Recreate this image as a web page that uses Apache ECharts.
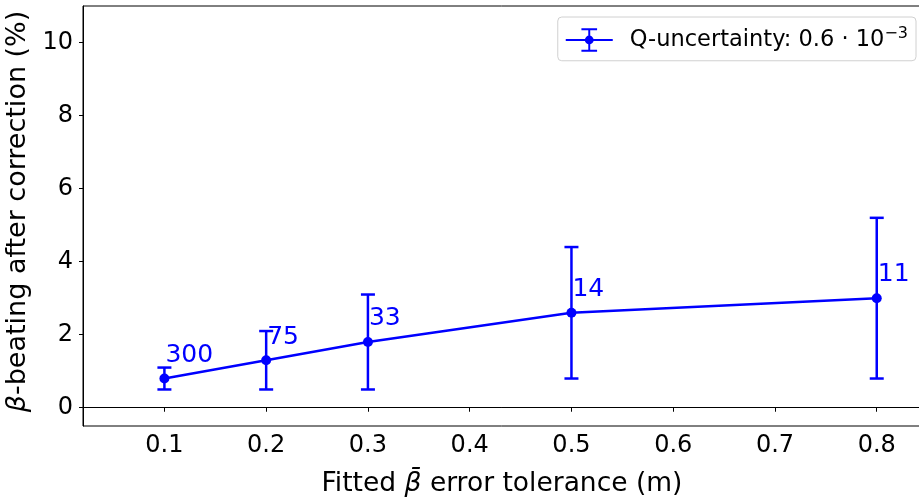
<!DOCTYPE html>
<html>
<head>
<meta charset="utf-8">
<script src="https://cdn.jsdelivr.net/npm/echarts@6/dist/echarts.min.js"></script>
<style>
  html, body { margin: 0; padding: 0; background: #fff; }
  #chart { width: 919px; height: 499px; }
</style>
</head>
<body>
<div id="chart"></div>
<script>
// data
var xValues = [0.1, 0.2, 0.3, 0.5, 0.8];
var yValues = [0.8, 1.3, 1.8, 2.6, 3.0];
var errLow = [0.5, 0.5, 0.5, 0.8, 0.8];
var errHigh = [1.1, 2.1, 3.1, 4.4, 5.2];
var counts = ["300", "75", "33", "14", "11"];
var xTicks = [0.1, 0.2, 0.3, 0.4, 0.5, 0.6, 0.7, 0.8];
var yTicks = [0, 2, 4, 6, 8, 10];

var BLUE = "#0000ff";
var FONT = "DejaVu Sans";

var lineData = xValues.map(function (x, i) { return [x, yValues[i]]; });
var errData = xValues.map(function (x, i) { return [x, errLow[i], errHigh[i]]; });
var labelData = xValues.map(function (x, i) { return [x, yValues[i], counts[i]]; });

// legend icon: line + errorbar + marker
var legendIcon = "path://M0 11L48 11L48 13L0 13Z M23 0L25 0L25 24L23 24Z M16 0L32 0L32 2L16 2Z M16 22L32 22L32 24L16 24Z M19.5 12A4.5 4.5 0 1 1 28.5 12A4.5 4.5 0 1 1 19.5 12Z";

function init_chart(container) {
  var chartDom = document.getElementById(container);
  var myChart = echarts.init(chartDom, null, { renderer: "canvas" });
  var option = {
    animation: false,
    textStyle: { fontFamily: FONT },
    grid: {
      left: 83,
      top: 6,
      right: -2,
      bottom: 73,
      outerBoundsMode: "none",
      show: true,
      borderColor: "#000",
      borderWidth: 1,
    },
    legend: {
      right: 3,
      top: 17,
      orient: "vertical",
      backgroundColor: "#fff",
      borderColor: "#d0d0d0",
      borderWidth: 1,
      borderRadius: 4,
      padding: [9, 8, 9, 8],
      itemWidth: 47,
      itemHeight: 24,
      data: [{ name: "Q-uncertainty", icon: legendIcon }],
      formatter: function () {
        return "{t|Q-uncertainty: 0.6 · 10}{s|−3}";
      },
      textStyle: {
        rich: {
          t: { fontFamily: FONT, fontSize: 22.5, color: "#000", padding: [0, 0, 0, 12] },
          s: { fontFamily: FONT, fontSize: 16, color: "#000", padding: [0, 0, 12, 0] },
        },
      },
    },
    xAxis: {
      type: "value",
      min: 0.02,
      max: 0.8435,
      name: "Fitted {i|β̄} error tolerance (m)",
      nameLocation: "middle",
      nameGap: 45,
      nameTextStyle: {
        fontFamily: FONT,
        fontSize: 26.5,
        color: "#000",
        rich: { i: { fontFamily: FONT, fontSize: 26.5, fontStyle: "italic", color: "#000" } },
      },
      axisLine: { show: true, lineStyle: { color: "#000", width: 1 } },
      axisTick: { show: true, length: 4, customValues: xTicks, lineStyle: { color: "#000" } },
      axisLabel: {
        customValues: xTicks,
        margin: 8,
        fontFamily: FONT,
        fontSize: 24,
        color: "#000",
        formatter: function (v) { return v.toFixed(1); },
      },
      splitLine: { show: false },
    },
    yAxis: {
      type: "value",
      min: -0.5,
      max: 11,
      name: "{i|β}-beating after correction (%)",
      nameLocation: "middle",
      nameGap: 48,
      nameTextStyle: {
        fontFamily: FONT,
        fontSize: 27,
        color: "#000",
        padding: [0, 0, 0, 9],
        rich: { i: { fontFamily: FONT, fontSize: 27, fontStyle: "italic", color: "#000" } },
      },
      axisLine: { show: true, lineStyle: { color: "#000", width: 1 } },
      axisTick: { show: true, length: 4, customValues: yTicks, lineStyle: { color: "#000" } },
      axisLabel: {
        customValues: yTicks,
        margin: 10,
        fontFamily: FONT,
        fontSize: 24,
        color: "#000",
      },
      splitLine: { show: false },
    },
    series: [
      {
        name: "Q-uncertainty",
        type: "line",
        data: lineData,
        color: BLUE,
        symbol: "circle",
        symbolSize: 10,
        lineStyle: { color: BLUE, width: 2.5 },
        itemStyle: { color: BLUE },
        z: 3,
        markLine: {
          silent: true,
          symbol: ["none", "none"],
          label: { show: false },
          lineStyle: { color: "#000", width: 1, type: "solid" },
          data: [{ yAxis: 0 }],
        },
      },
      {
        // error bars
        name: "err",
        type: "custom",
        data: errData,
        z: 2,
        renderItem: function (params, api) {
          var x = api.value(0);
          var lo = api.coord([x, api.value(1)]);
          var hi = api.coord([x, api.value(2)]);
          var cap = 7;
          var style = { stroke: BLUE, lineWidth: 2.5 };
          return {
            type: "group",
            children: [
              { type: "line", shape: { x1: lo[0], y1: lo[1], x2: hi[0], y2: hi[1] }, style: style },
              { type: "line", shape: { x1: lo[0] - cap, y1: lo[1], x2: lo[0] + cap, y2: lo[1] }, style: style },
              { type: "line", shape: { x1: hi[0] - cap, y1: hi[1], x2: hi[0] + cap, y2: hi[1] }, style: style },
            ],
          };
        },
      },
      {
        // count annotations
        name: "counts",
        type: "custom",
        data: labelData,
        z: 4,
        renderItem: function (params, api) {
          var p = api.coord([api.value(0), api.value(1) + 0.43]);
          return {
            type: "text",
            x: p[0] + 1,
            y: p[1] + 5,
            style: {
              text: counts[params.dataIndex],
              fill: BLUE,
              font: "25px '" + FONT + "'",
              align: "left",
              verticalAlign: "bottom",
            },
          };
        },
      },
    ],
  };

  myChart.setOption(option);
  window.addEventListener("resize", function () {
    myChart.resize();
  });
}

init_chart("chart");
</script>
</body>
</html>
